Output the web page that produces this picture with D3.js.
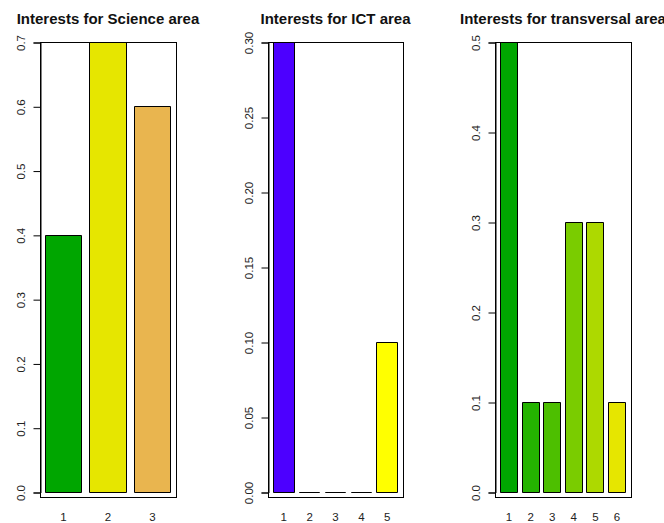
<!DOCTYPE html>
<html><head><meta charset="utf-8">
<script src="https://cdn.jsdelivr.net/npm/d3@7"></script>
<style>body{margin:0;background:#fff}svg{display:block}</style>
</head><body>
<script>
// Data
const scienceCats = ["1","2","3"];
const scienceVals = [0.4, 0.7, 0.6];
const scienceColors = ["#00A600","#E6E600","#E9B54F"];
const scienceTicks = ["0.0","0.1","0.2","0.3","0.4","0.5","0.6","0.7"];

const ictCats = ["1","2","3","4","5"];
const ictVals = [0.3, 0, 0, 0, 0.1];
const ictColors = ["#4C00FF","#004CFF","#00E5FF","#00FF4D","#FFFF00"];
const ictTicks = ["0.00","0.05","0.10","0.15","0.20","0.25","0.30"];

const transCats = ["1","2","3","4","5","6"];
const transVals = [0.5, 0.1, 0.1, 0.3, 0.3, 0.1];
const transColors = ["#00A600","#24B300","#4DBF00","#7ACC00","#ADD900","#E6E600"];
const transTicks = ["0.0","0.1","0.2","0.3","0.4","0.5"];

const titles = ["Interests for Science area","Interests for ICT area","Interests for transversal area"];

const W = 664, H = 523;
const svg = d3.select("body").append("svg").attr("width", W).attr("height", H);
const font = "'Liberation Sans', Arial, sans-serif";

const panels = [
  {cats: scienceCats, vals: scienceVals, colors: scienceColors, ticks: scienceTicks, x0: 40, x1: 176},
  {cats: ictCats, vals: ictVals, colors: ictColors, ticks: ictTicks, x0: 268, x1: 403},
  {cats: transCats, vals: transVals, colors: transColors, ticks: transTicks, x0: 495, x1: 631}
];
const yTop = 42, yZero = 492, boxBottom = 497;

panels.forEach((p, i) => {
  const n = p.cats.length;
  const ymax = d3.max(p.ticks.map(Number));
  const y = d3.scaleLinear().domain([0, ymax]).range([yZero, yTop]);
  const outer = 0.04 * (1.2 * n - 0.2) / 1.2;
  const x = d3.scaleBand().domain(p.cats).range([p.x0, p.x1])
    .paddingInner(1/6).paddingOuter(outer).align(0.5);
  const g = svg.append("g");

  // bars (as paths so zero-height bars still show their outline)
  g.selectAll("path.bar").data(p.vals).enter().append("path")
    .attr("d", (d, j) => {
      const l = Math.round(x(p.cats[j])) + 0.5;
      const r = Math.round(x(p.cats[j]) + x.bandwidth()) - 0.5;
      const t = Math.round(y(d)) + 0.5;
      const b = Math.round(y(0)) + 0.5;
      return `M${l},${b}H${r}V${t}H${l}Z`;
    })
    .attr("fill", (d, j) => p.colors[j])
    .attr("stroke", "#000").attr("stroke-width", 1);

  // box
  g.append("rect").attr("x", p.x0 + 0.5).attr("y", yTop + 0.5)
    .attr("width", p.x1 - p.x0).attr("height", boxBottom - yTop)
    .attr("fill", "none").attr("stroke", "#000").attr("stroke-width", 1);

  // y axis
  const ax = d3.axisLeft(y).tickValues(p.ticks.map(Number))
    .tickFormat((d, j) => p.ticks[j]).tickSize(7).tickPadding(0);
  const axg = g.append("g").attr("transform", `translate(${p.x0 + 0.5},0.5)`).call(ax);
  axg.select(".domain").attr("stroke", "#000");
  axg.selectAll(".tick line").attr("stroke", "#000");
  axg.selectAll(".tick text")
    .attr("x", null).attr("dy", null)
    .attr("transform", "translate(-20,0) rotate(-90)")
    .attr("text-anchor", "middle")
    .attr("dominant-baseline", "central")
    .attr("font-family", font).attr("font-size", 11.5).attr("fill", "#222");

  // x labels
  g.selectAll("text.xl").data(p.cats).enter().append("text")
    .attr("x", d => x(d) + x.bandwidth() / 2)
    .attr("y", 521)
    .attr("text-anchor", "middle")
    .attr("font-family", font).attr("font-size", 11.5).attr("fill", "#222")
    .text(d => d);

  // title
  svg.append("text")
    .attr("x", (p.x0 + p.x1) / 2).attr("y", 24)
    .attr("text-anchor", "middle")
    .attr("font-family", font).attr("font-size", 15).attr("font-weight", "bold")
    .attr("fill", "#111")
    .text(titles[i]);
});
</script>
</body></html>
